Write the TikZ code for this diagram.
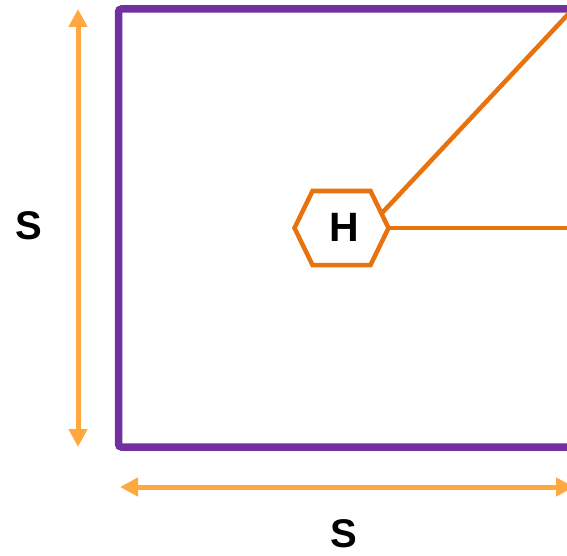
\documentclass[tikz,border=0pt]{standalone}
\usepackage{fontspec}
\setmainfont{Liberation Sans}
\usetikzlibrary{arrows.meta}
\definecolor{rectpurple}{HTML}{7030A0}
\definecolor{hexorange}{HTML}{E8730E}
\definecolor{dimorange}{HTML}{FFA83F}
\tikzset{
  frame/.style={draw=rectpurple, line width=7.5pt, rounded corners=3pt},
  hexline/.style={draw=hexorange, line width=4.5pt, line join=miter},
  dimarrow/.style={draw=dimorange, line width=5pt, {Triangle[length=18pt,width=18pt]}-{Triangle[length=18pt,width=18pt]}},
  lbl/.style={font=\fontsize{40}{40}\selectfont\bfseries, text=black, inner sep=0pt}
}
\begin{document}
\begin{tikzpicture}[x=1pt,y=-1pt]
\useasboundingbox (0,0) rectangle (567,556);
% frame
\coordinate (tl) at (118.5,9);
\coordinate (br) at (573,447);
\coordinate (tr) at (573,9);
\coordinate (rmid) at (573,228);
\draw[frame] (tl) rectangle (br);
% hexagon
\coordinate (h1) at (294.5,228);
\coordinate (h2) at (312.5,191);
\coordinate (h3) at (370.5,191);
\coordinate (h4) at (388.5,228);
\coordinate (h5) at (370.5,265);
\coordinate (h6) at (312.5,265);
\coordinate (hdiag) at (382,213);
\draw[hexline] (h1) -- (h2) -- (h3) -- (h4) -- (h5) -- (h6) -- cycle;
\node[lbl, font=\fontsize{41}{41}\selectfont\bfseries] (H) at (344,227) {H};
% connectors
\draw[hexline] (hdiag) -- (tr);
\draw[hexline] (h4) -- (rmid);
% dimension arrows
\coordinate (vtop) at (78,9);
\coordinate (vbot) at (78,447);
\coordinate (hleft) at (120,487);
\coordinate (hright) at (574,487);
\draw[dimarrow] (vtop) -- (vbot);
\draw[dimarrow] (hleft) -- (hright);
\node[lbl] (S1) at (29,226) {S};
\node[lbl] (S2) at (344,534) {S};
\end{tikzpicture}
\end{document}
